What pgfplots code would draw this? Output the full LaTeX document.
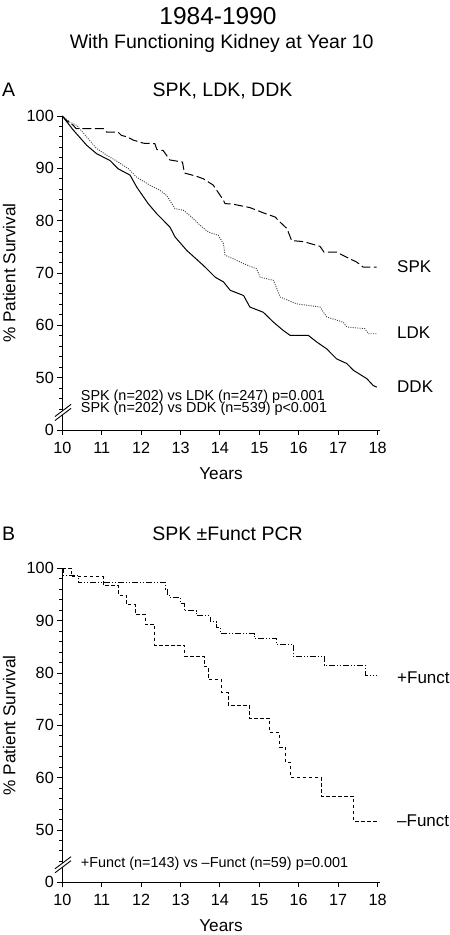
\documentclass[border=0pt]{standalone}
\usepackage{fontspec}
\setmainfont{Liberation Sans}
\usepackage{pgfplots}
\pgfplotsset{compat=1.18}
\begin{document}
\begin{tikzpicture}
\useasboundingbox (0pt,0pt) rectangle (450pt,-935pt);
\pgfplotsset{
 kmstyle/.style={
  scale only axis, width=317.6pt, height=314pt,
  xmin=10, xmax=18.06, ymin=40, ymax=100,
  axis x line*=bottom, axis y line*=left,
  axis line style={line width=1pt, -},
  tick align=outside,
  xtick={10,...,18}, ytick={40,50,...,100},
  yticklabels={0,50,60,70,80,90,100},
  minor ytick={44,46,...,98},
  major tick length=5pt, minor tick length=3pt,
  every tick/.style={black, line width=0.9pt},
  tick label style={font=\fontsize{16.2}{18}\selectfont},
  xticklabel style={yshift=-3.5pt},
  /pgf/number format/assume math mode=true,
  clip=false,
 }
}
% ---------- Panel A ----------
\begin{axis}[kmstyle, at={(62.3pt,-430pt)}, anchor=south west]
% SPK
\addplot[black, line width=1pt, dash pattern=on 9pt off 3.5pt] coordinates {
(10,100)(10.1,99.2)(10.28,98.2)(10.35,97.6)(11.04,97.6)(11.13,96.9)(11.42,96.9)
(11.5,96.3)(11.65,96.0)(11.8,95.4)(12.06,94.8)(12.35,94.7)(12.4,93.6)(12.56,93.4)
(12.73,91.6)(13.05,91.2)(13.1,89.1)(13.4,88.5)(13.58,88.0)(13.83,86.8)(13.92,85.8)
(14.09,83.9)(14.13,83.25)(14.3,83.2)(14.76,82.5)(15.1,81.5)(15.4,80.7)(15.53,79.7)
(15.7,78.5)(15.82,76.2)(16.12,76.0)(16.54,75.1)(16.64,74.0)(16.96,74.0)(17.3,72.7)
(17.47,72.1)(17.64,71.1)(17.98,71.1)};
% LDK
\addplot[black!75, line width=0.9pt, dash pattern=on 1pt off 1.3pt] coordinates {
(10,100)(10.2,98.8)(10.37,98.2)(10.62,96.0)(10.87,93.8)(11.13,92.5)(11.42,91.2)
(11.68,89.9)(11.89,88.3)(12.23,86.75)(12.48,85.8)(12.65,84.8)(12.86,82.3)(13.07,82.0)
(13.28,80.7)(13.5,79.1)(13.71,77.8)(13.96,77.2)(14.09,75.6)(14.13,73.4)(14.34,72.7)
(14.6,71.8)(14.93,70.8)(15.02,69.2)(15.36,68.6)(15.53,65.4)(15.95,64.1)(16.54,63.5)
(16.71,61.6)(17.13,60.6)(17.22,59.7)(17.68,59.35)(17.77,58.4)(17.98,58.4)};
% DDK
\addplot[black, line width=1pt] coordinates {
(10,100)(10.28,97.3)(10.62,94.4)(10.87,92.8)(11.21,91.5)(11.42,89.9)(11.72,88.7)
(11.89,86.4)(12.18,83.25)(12.4,81.3)(12.73,78.8)(12.86,76.9)(13.16,74.3)(13.58,71.45)
(13.88,69.2)(14.09,68.3)(14.26,66.7)(14.6,65.7)(14.76,63.5)(15.1,62.5)(15.36,60.6)
(15.61,59.0)(15.78,58.1)(16.24,58.1)(16.46,56.8)(16.71,55.5)(16.96,53.6)(17.22,52.7)
(17.39,51.4)(17.73,49.8)(17.89,48.5)(17.98,48.2)};
\end{axis}
% ---------- Panel B ----------
\begin{axis}[kmstyle, at={(62.3pt,-882.3pt)}, anchor=south west]
% +Funct
\addplot[black, line width=1pt, const plot,
  dash pattern=on 6pt off 2pt on 1pt off 2pt on 1pt off 2pt] coordinates {
(10,100)(10.03,98.6)(10.4,97.3)(12.61,96.0)(12.66,95.0)(12.73,94.4)(12.99,93.2)
(13.09,91.9)(13.41,91.05)(13.75,89.8)(13.92,88.7)(14.02,87.5)(14.87,86.6)(15.43,85.5)
(15.86,83.1)(16.65,81.5)(17.70,79.6)(17.98,79.6)};
% -Funct
\addplot[black, line width=1pt, const plot, dash pattern=on 3.5pt off 2.5pt] coordinates {
(10,100)(10.24,98.4)(11.04,96.7)(11.42,94.9)(11.63,93.0)(11.85,91.2)(12.10,89.3)
(12.35,85.3)(13.11,83.2)(13.6,81.2)(13.71,78.7)(14.05,76.2)(14.21,73.8)(14.75,71.3)
(15.27,68.6)(15.52,65.8)(15.67,62.9)(15.80,60.0)(16.58,56.4)(17.40,51.6)(17.98,51.6)};
\end{axis}
% ---------- axis breaks ----------
\foreach \dy in {0,452.3}{
 \fill[white] (59pt,{-413.5pt-\dy pt}) -- (66pt,{-408.2pt-\dy pt}) -- (66pt,{-412.2pt-\dy pt}) -- (59pt,{-417.5pt-\dy pt}) -- cycle;
 \draw[black, line width=0.9pt] (55pt,{-416.5pt-\dy pt}) -- (71pt,{-404.4pt-\dy pt});
 \draw[black, line width=0.9pt] (55pt,{-420.5pt-\dy pt}) -- (71pt,{-408.4pt-\dy pt});
}
% ---------- titles ----------
\node[anchor=base, inner sep=0pt, font=\fontsize{24.5}{28}\selectfont] at (218pt,-24pt) {1984-1990};
\node[anchor=base, inner sep=0pt, font=\fontsize{19.5}{22}\selectfont] at (221.7pt,-48.3pt) {With Functioning Kidney at Year 10};
\node[anchor=base west, inner sep=0pt, font=\fontsize{19.5}{22}\selectfont] at (2pt,-96.7pt) {A};
\node[anchor=base, inner sep=0pt, font=\fontsize{19.5}{22}\selectfont] at (222.5pt,-96.7pt) {SPK, LDK, DDK};
\node[anchor=base west, inner sep=0pt, font=\fontsize{19.5}{22}\selectfont] at (2pt,-540pt) {B};
\node[anchor=base, inner sep=0pt, font=\fontsize{19.5}{22}\selectfont] at (227.5pt,-540pt) {SPK ±Funct PCR};
% ---------- axis labels ----------
\node[rotate=90, anchor=base, inner sep=0pt, font=\fontsize{17.2}{20}\selectfont] at (15.5pt,-273pt) {\% Patient Survival};
\node[rotate=90, anchor=base, inner sep=0pt, font=\fontsize{17.2}{20}\selectfont] at (15.5pt,-725.3pt) {\% Patient Survival};
\node[anchor=base, inner sep=0pt, font=\fontsize{17.2}{20}\selectfont] at (221pt,-479pt) {Years};
\node[anchor=base, inner sep=0pt, font=\fontsize{17.2}{20}\selectfont] at (221pt,-931.5pt) {Years};
% ---------- curve labels ----------
\begin{scope}[every node/.style={anchor=west, inner sep=0pt, font=\fontsize{17}{20}\selectfont}]
\node at (397pt,-266.7pt) {SPK};
\node at (397pt,-333pt) {LDK};
\node at (397pt,-386.7pt) {DDK};
\node at (397pt,-678pt) {+Funct};
\node at (397pt,-820.7pt) {–Funct};
\end{scope}
% ---------- annotations ----------
\begin{scope}[every node/.style={anchor=base west, inner sep=0pt, font=\fontsize{14.4}{16}\selectfont}]
\node at (80.7pt,-400pt) {SPK (n=202) vs LDK (n=247) p=0.001};
\node at (80.7pt,-412.7pt) {SPK (n=202) vs DDK (n=539) p<0.001};
\node at (80.7pt,-867.5pt) {+Funct (n=143) vs –Funct (n=59) p=0.001};
\end{scope}
\end{tikzpicture}
\end{document}
